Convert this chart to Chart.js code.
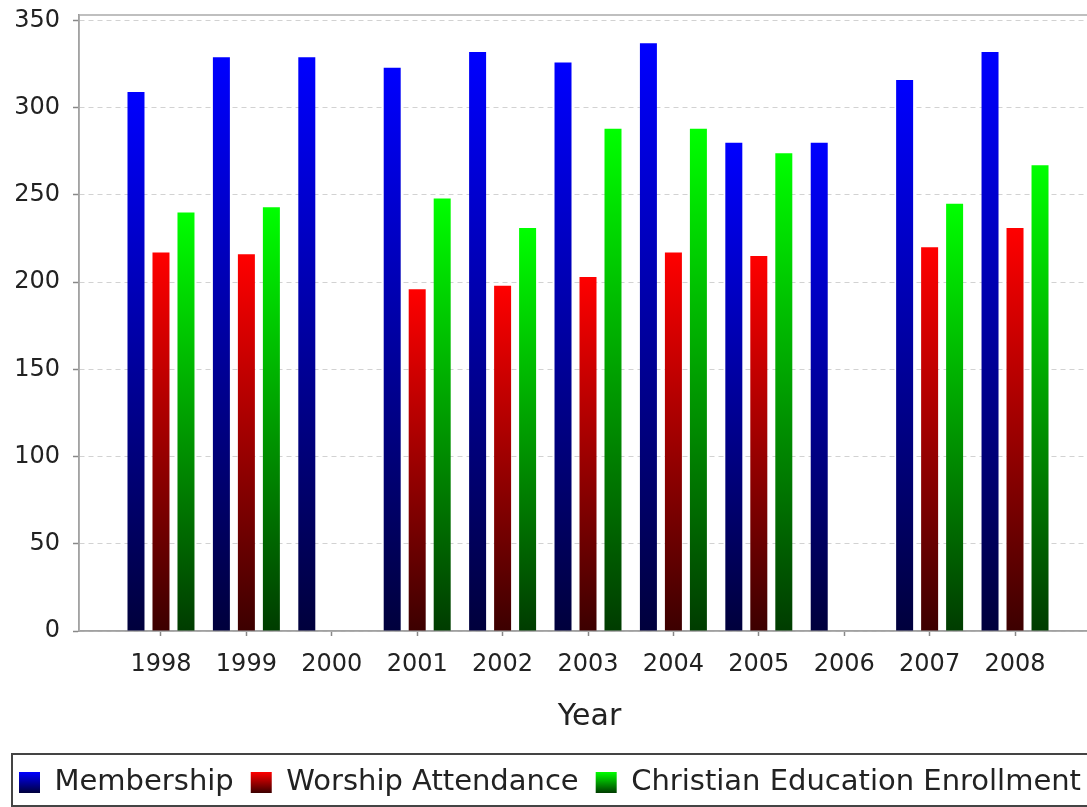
<!DOCTYPE html>
<html>
<head>
<meta charset="utf-8">
<title>Membership, Worship Attendance and Christian Education Enrollment</title>
<script src="https://cdn.jsdelivr.net/npm/chart.js@4.4.1/dist/chart.umd.min.js"></script>
<style>
    html, body { margin: 0; padding: 0; background: #fff; overflow: hidden; }
    #wrap { position: relative; width: 1100px; height: 807px; }
</style>
</head>
<body>
<div id="wrap"><canvas id="churchChart"></canvas></div>
<script>
// ---- data ----
const years = [1998, 1999, 2000, 2001, 2002, 2003, 2004, 2005, 2006, 2007, 2008];
const membership = [309, 329, 329, 323, 332, 326, 337, 280, 280, 316, 332];
const worshipAttendance = [217, 216, null, 196, 198, 203, 217, 215, null, 220, 231];
const educationEnrollment = [240, 243, null, 248, 231, 288, 288, 274, null, 245, 267];
const yStep = 50;
const yTop = 350;

const FONT = '"DejaVu Sans", "Liberation Sans", sans-serif';
const TEXT = '#222';
const AXIS = '#888';

const seriesTops = ['#0000ff', '#ff0000', '#00ff00'];
const seriesBottoms = ['#00003c', '#3c0000', '#003c00'];

const legendFontSize = 29;
const legendBox = 21;
const legendPad = 17;

// vertical gradient per bar: bright at the top, dark at the base
function barGradient(top, bottom) {
    return function(context) {
        const chart = context.chart;
        if (!chart.chartArea || context.type !== 'data' || !context.parsed || context.parsed.y == null) {
            return top;
        }
        const yScale = chart.scales.y;
        const y0 = yScale.getPixelForValue(context.parsed.y);
        const y1 = yScale.getPixelForValue(0);
        if (!isFinite(y0) || y1 - y0 < 1) return top;
        const g = chart.ctx.createLinearGradient(0, y0, 0, y1);
        g.addColorStop(0, top);
        g.addColorStop(1, bottom);
        return g;
    };
}

// legend squares get the same top-to-bottom gradient, plus a frame round the legend
const legendStyle = {
    id: 'legendStyle',
    beforeDraw(chart) {
        const lg = chart.legend;
        if (!lg || !lg.legendItems) return;
        const y0 = lg.top + legendPad + Math.max((legendFontSize - legendBox) / 2, 0);
        lg.legendItems.forEach((item, i) => {
            const g = chart.ctx.createLinearGradient(0, y0, 0, y0 + legendBox);
            g.addColorStop(0, seriesTops[i]);
            g.addColorStop(1, seriesBottoms[i]);
            item.fillStyle = g;
        });
    },
    afterDraw(chart) {
        const lg = chart.legend;
        const ctx = chart.ctx;
        ctx.save();
        ctx.strokeStyle = '#444';
        ctx.lineWidth = 2;
        ctx.strokeRect(12, lg.top + 3, chart.width - 20, lg.bottom - lg.top - 4);
        ctx.restore();
    }
};

// light outline round the plot area
const plotFrame = {
    id: 'plotFrame',
    beforeDatasetsDraw(chart) {
        const a = chart.chartArea;
        const ctx = chart.ctx;
        ctx.save();
        ctx.strokeStyle = '#aaa';
        ctx.lineWidth = 1.5;
        ctx.strokeRect(a.left, a.top, a.right - a.left, a.bottom - a.top);
        ctx.restore();
    }
};

const ctx = document.getElementById('churchChart').getContext('2d');
new Chart(ctx, {
    type: 'bar',
    data: {
        labels: years,
        datasets: [
            { label: 'Membership', data: membership, backgroundColor: barGradient(seriesTops[0], seriesBottoms[0]) },
            { label: 'Worship Attendance', data: worshipAttendance, backgroundColor: barGradient(seriesTops[1], seriesBottoms[1]) },
            { label: 'Christian Education Enrollment', data: educationEnrollment, backgroundColor: barGradient(seriesTops[2], seriesBottoms[2]) }
        ]
    },
    options: {
        responsive: true,
        maintainAspectRatio: false,
        animation: false,
        layout: { padding: { top: 15, right: 0, bottom: 0, left: 0 } },
        datasets: {
            bar: { categoryPercentage: 0.878, barPercentage: 0.68, borderWidth: 0 }
        },
        plugins: {
            tooltip: { enabled: false },
            legend: {
                position: 'bottom',
                labels: {
                    boxWidth: legendBox,
                    boxHeight: legendBox,
                    padding: legendPad,
                    color: TEXT,
                    font: { family: FONT, size: legendFontSize }
                }
            }
        },
        scales: {
            x: {
                type: 'linear',
                offset: false,
                min: years[0] - 0.96,
                max: years[years.length - 1] + 0.995,
                grid: { display: true, drawOnChartArea: false, drawTicks: true, offset: false, tickLength: 5, tickColor: AXIS, tickWidth: 1.5 },
                border: { display: true, color: AXIS, width: 1.5 },
                ticks: {
                    stepSize: 1,
                    includeBounds: false,
                    autoSkip: false,
                    maxRotation: 0,
                    padding: 14,
                    color: TEXT,
                    font: { family: FONT, size: 24 },
                    callback: v => String(v)
                },
                title: {
                    display: true,
                    text: 'Year',
                    color: TEXT,
                    font: { family: FONT, size: 30 },
                    padding: { top: 0, bottom: 16 }
                },
                afterFit(s) {
                    s.height = 120;
                    s.paddingLeft = 0;
                    s.paddingRight = 0;
                }
            },
            y: {
                min: 0,
                max: 353.2,
                grid: { color: '#d2d2d2', lineWidth: 1, tickLength: 6, tickColor: AXIS, tickWidth: 1.5 },
                border: { display: true, color: AXIS, width: 1.5, dash: [5, 4] },
                ticks: {
                    stepSize: yStep,
                    includeBounds: false,
                    padding: 13,
                    color: TEXT,
                    font: { family: FONT, size: 24 },
                    callback: v => (v <= yTop ? String(v) : '')
                },
                afterFit(s) {
                    s.width = 79;
                    s.paddingTop = 0;
                    s.paddingBottom = 0;
                }
            }
        }
    },
    plugins: [plotFrame, legendStyle]
});
</script>
</body>
</html>
